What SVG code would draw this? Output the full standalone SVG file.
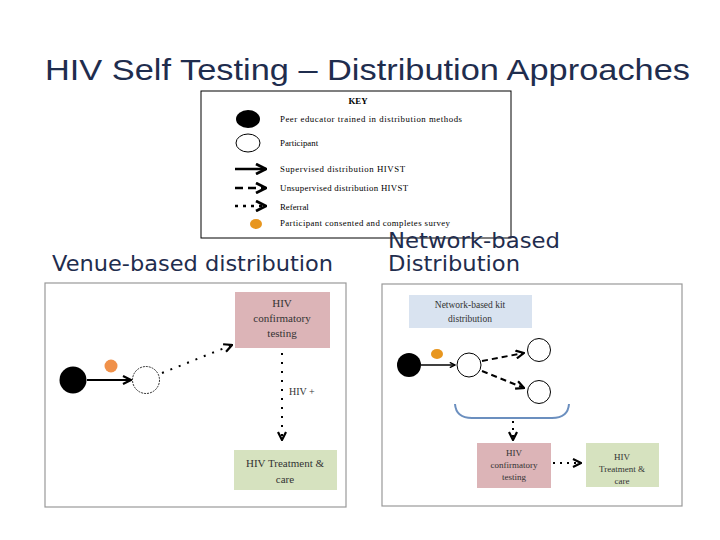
<svg xmlns="http://www.w3.org/2000/svg" width="720" height="540" viewBox="0 0 720 540">
<defs>
<style>
.t{font-family:"Liberation Serif",serif;fill:#333}
.k{font-family:"Liberation Serif",serif;font-size:8.8px;fill:#000}
.h{font-family:"DejaVu Sans",sans-serif;font-size:21px;fill:#1f2d4e}
.frame{fill:#fff;stroke:#999;stroke-width:1.2}
.ln{stroke:#000;fill:none}
</style>
<marker id="ah" viewBox="0 0 10 10" refX="9" refY="5" markerWidth="5" markerHeight="5" orient="auto"><path d="M1,1 L9,5 L1,9" fill="none" stroke="#000" stroke-width="2.2"/></marker>
</defs>
<rect width="720" height="540" fill="#fff"/>
<text x="45" y="80" font-family="Liberation Sans,sans-serif" font-size="29" fill="#1f2d4e" textLength="645" lengthAdjust="spacingAndGlyphs">HIV Self Testing – Distribution Approaches</text>
<g id="key">
<rect x="201" y="91" width="310" height="147" fill="#fff" stroke="#000"/>
<text x="358" y="104" class="k" text-anchor="middle" font-weight="bold" font-size="9.5">KEY</text>
<ellipse cx="248" cy="119" rx="12" ry="9" fill="#000"/>
<text x="280" y="122" class="k" textLength="182">Peer educator trained in distribution methods</text>
<ellipse cx="248" cy="143" rx="12" ry="9" fill="#fff" stroke="#000"/>
<text x="280" y="146" class="k">Participant</text>
<line x1="235" y1="169" x2="266" y2="169" class="ln" stroke-width="2.5" marker-end="url(#ah)"/>
<text x="280" y="172" class="k" textLength="125">Supervised distribution HIVST</text>
<line x1="235" y1="188" x2="266" y2="188" class="ln" stroke-width="2.5" stroke-dasharray="8,5" marker-end="url(#ah)"/>
<text x="280" y="191" class="k" textLength="128">Unsupervised distribution HIVST</text>
<line x1="235" y1="206" x2="266" y2="206" class="ln" stroke-width="2.5" stroke-dasharray="3,5" marker-end="url(#ah)"/>
<text x="280" y="210" class="k">Referral</text>
<ellipse cx="256" cy="224" rx="6" ry="5" fill="#e8961e"/>
<text x="280" y="226" class="k" textLength="170">Participant consented and completes survey</text>
</g>
<text x="52" y="271" class="h" textLength="281" lengthAdjust="spacingAndGlyphs">Venue-based distribution</text>
<text x="388" y="248" class="h" textLength="172" lengthAdjust="spacingAndGlyphs">Network-based</text>
<text x="388" y="271" class="h" textLength="132" lengthAdjust="spacingAndGlyphs">Distribution</text>
<rect class="frame" x="45" y="283" width="301" height="224"/>
<rect class="frame" x="382" y="284" width="300" height="222"/>
<g id="venue">
<g id="v-confirm"><rect x="235" y="292" width="95" height="56" fill="#dcb4b7"/>
<text class="t" font-size="11" text-anchor="middle"><tspan x="282" y="307">HIV</tspan><tspan x="282" y="322">confirmatory</tspan><tspan x="282" y="337">testing</tspan></text></g>
<g id="v-peer"><circle cx="73" cy="380" r="13.5" fill="#000"/></g>
<g id="v-survey"><circle cx="111" cy="366" r="6.5" fill="#f0914a"/></g>
<g id="v-part"><circle cx="146" cy="380" r="13.5" fill="#fff" stroke="#000" stroke-dasharray="2,1" stroke-width="0.8"/></g>
<g id="v-treat"><rect x="234" y="450" width="103" height="40" fill="#d6e2bf"/>
<text class="t" font-size="11" text-anchor="middle"><tspan x="285" y="467">HIV Treatment &amp;</tspan><tspan x="285" y="483">care</tspan></text></g>
<text class="t" x="289" y="395" font-size="10">HIV +</text>
</g>
<g id="network">
<g id="n-kit"><rect x="409" y="295" width="123" height="33" fill="#d9e3f0"/>
<text class="t" font-size="9.5" text-anchor="middle"><tspan x="470" y="308">Network-based kit</tspan><tspan x="470" y="322">distribution</tspan></text></g>
<g id="n-peer"><circle cx="409" cy="365" r="12" fill="#000"/></g>
<g id="n-survey"><ellipse cx="437" cy="354" rx="6" ry="5" fill="#e8961e"/></g>
<g id="n-part"><circle cx="469" cy="365" r="12" fill="#fff" stroke="#000"/></g>
<g id="n-p1"><circle cx="539" cy="350" r="11.5" fill="#fff" stroke="#000"/></g>
<g id="n-p2"><circle cx="539" cy="392" r="11.5" fill="#fff" stroke="#000"/></g>
<path d="M455,404 Q456,418 472,418 L552,418 Q568,418 569,404" fill="none" stroke="#6b8fbf" stroke-width="2"/>
<g id="n-confirm"><rect x="477" y="443" width="74" height="45" fill="#dcb4b7"/>
<text class="t" font-size="9" text-anchor="middle"><tspan x="514" y="456">HIV</tspan><tspan x="514" y="468">confirmatory</tspan><tspan x="514" y="480">testing</tspan></text></g>
<g id="n-treat"><rect x="586" y="443" width="73" height="44" fill="#d6e2bf"/>
<text class="t" font-size="9" text-anchor="middle"><tspan x="622" y="460">HIV</tspan><tspan x="622" y="472">Treatment &amp;</tspan><tspan x="622" y="484">care</tspan></text></g>
</g>
<g id="connectors">
<line x1="87" y1="380" x2="131" y2="380" class="ln" stroke-width="2" marker-end="url(#ah)"/>
<line x1="162" y1="373" x2="232" y2="345" class="ln" stroke-width="2" stroke-dasharray="2,7" marker-end="url(#ah)"/>
<line x1="282" y1="353" x2="282" y2="440" class="ln" stroke-width="2" stroke-dasharray="2,7" marker-end="url(#ah)"/>
<line x1="421" y1="365" x2="455" y2="365" class="ln" stroke-width="1.3" marker-end="url(#ah)"/>
<line x1="482" y1="361" x2="524" y2="353" class="ln" stroke-width="2" stroke-dasharray="6,4" marker-end="url(#ah)"/>
<line x1="482" y1="371" x2="524" y2="388" class="ln" stroke-width="2" stroke-dasharray="6,4" marker-end="url(#ah)"/>
<line x1="513" y1="421" x2="513" y2="440" class="ln" stroke-width="2" stroke-dasharray="2,5" marker-end="url(#ah)"/>
<line x1="553" y1="463" x2="581" y2="463" class="ln" stroke-width="2" stroke-dasharray="2,5" marker-end="url(#ah)"/>
</g>
</svg>
